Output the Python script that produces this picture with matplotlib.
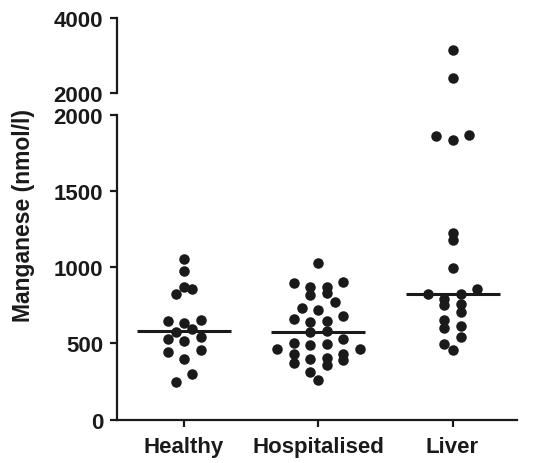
import numpy as np
import pandas as pd
import matplotlib
matplotlib.use("Agg")
import matplotlib.pyplot as plt

# Manganese concentrations (nmol/l) per patient group
groups = ["Healthy", "Hospitalised", "Liver"]
healthy = [1055, 972, 870, 858, 826, 654, 645, 637, 595, 572, 545, 532, 516,
           459, 442, 398, 302, 250]
hospitalised = [1026, 903, 898, 873, 873, 829, 820, 774, 730, 722, 680, 662,
                648, 638, 584, 573, 532, 504, 498, 488, 465, 462, 434, 434,
                404, 400, 392, 372, 356, 315, 263]
liver = [3160, 2405, 1866, 1862, 1835, 1222, 1180, 997, 855, 826, 826, 793,
         759, 752, 704, 651, 612, 603, 544, 494, 459]

lower_ticks = [0, 500, 1000, 1500, 2000]
upper_ticks = [2000, 4000]
split = 2000

df = pd.DataFrame({
    "group": ["Healthy"] * len(healthy) + ["Hospitalised"] * len(hospitalised)
             + ["Liver"] * len(liver),
    "mn": healthy + hospitalised + liver,
})

plt.rcParams["font.family"] = ["Liberation Sans", "DejaVu Sans"]
plt.rcParams["font.weight"] = "bold"
ink = "#1a1a1a"
dot_px = 10.5    # marker diameter in pixels
row_px = 12.0    # height of one row of dots
step_px = 16.5   # horizontal distance between dots in a row


def scatter_x(ax, center, vals):
    """Column scatter: dots that share a row are spread evenly about the centre."""
    tr = ax.transData
    ys = np.array([tr.transform((center, v))[1] for v in vals])
    y0 = tr.transform((center, 0))[1]
    rows = np.floor((ys - y0) / row_px).astype(int)
    offs = np.zeros(len(vals))
    for r in np.unique(rows):
        idx = np.where(rows == r)[0]
        idx = idx[np.argsort(ys[idx])]
        n = len(idx)
        slots = (np.arange(n) - (n - 1) / 2) * step_px
        # lowest value of the row sits nearest the centre
        slots = sorted(slots, key=lambda s: (abs(s), s))
        offs[idx] = slots
    x0 = tr.transform((0, 0))[0]
    x1 = tr.transform((1, 0))[0]
    return center + offs / (x1 - x0)


fig = plt.figure(figsize=(5.55, 4.64), dpi=100)
ax_hi = fig.add_axes([0.2108, 0.7968, 0.7207, 0.1623])
ax_lo = fig.add_axes([0.2108, 0.0933, 0.7207, 0.6573])

ax_lo.set_xlim(-0.5, 2.48)
ax_hi.set_xlim(-0.5, 2.48)
ax_lo.set_ylim(0, split)
ax_hi.set_ylim(split, 4000)

ms = dot_px * 72 / fig.dpi
for i, g in enumerate(groups):
    vals = df.loc[df["group"] == g, "mn"].to_numpy()
    for ax, part in ((ax_lo, vals[vals <= split]), (ax_hi, vals[vals > split])):
        if len(part) == 0:
            continue
        xs = scatter_x(ax, i, part)
        ax.plot(xs, part, "o", ms=ms, mew=0, color=ink, clip_on=False,
                zorder=2)
    # median bar
    med = np.median(vals)
    ax_lo.plot([i - 0.35, i + 0.35], [med, med], color=ink, lw=2.2,
               solid_capstyle="butt", zorder=3)

for ax in (ax_lo, ax_hi):
    for s in ("top", "right"):
        ax.spines[s].set_visible(False)
    ax.spines["left"].set_linewidth(1.6)
    ax.spines["left"].set_color(ink)
    ax.tick_params(axis="y", length=5, width=1.6, pad=5, labelsize=16,
                   colors=ink)

ax_lo.set_yticks(lower_ticks)
ax_lo.spines["bottom"].set_linewidth(1.6)
ax_lo.spines["bottom"].set_color(ink)
ax_lo.set_xticks(range(len(groups)))
ax_lo.set_xticklabels(groups, fontsize=16, fontweight="bold")
ax_lo.tick_params(axis="x", length=5, width=1.6, pad=7, colors=ink)

ax_hi.set_yticks(upper_ticks)
ax_hi.spines["bottom"].set_visible(False)
ax_hi.set_xticks([])

ax_lo.set_ylabel("Manganese (nmol/l)", fontsize=16.5, fontweight="bold",
                 color=ink)
ax_lo.yaxis.set_label_coords(-0.205, 0.673)

fig.savefig("out.png", dpi=100)
